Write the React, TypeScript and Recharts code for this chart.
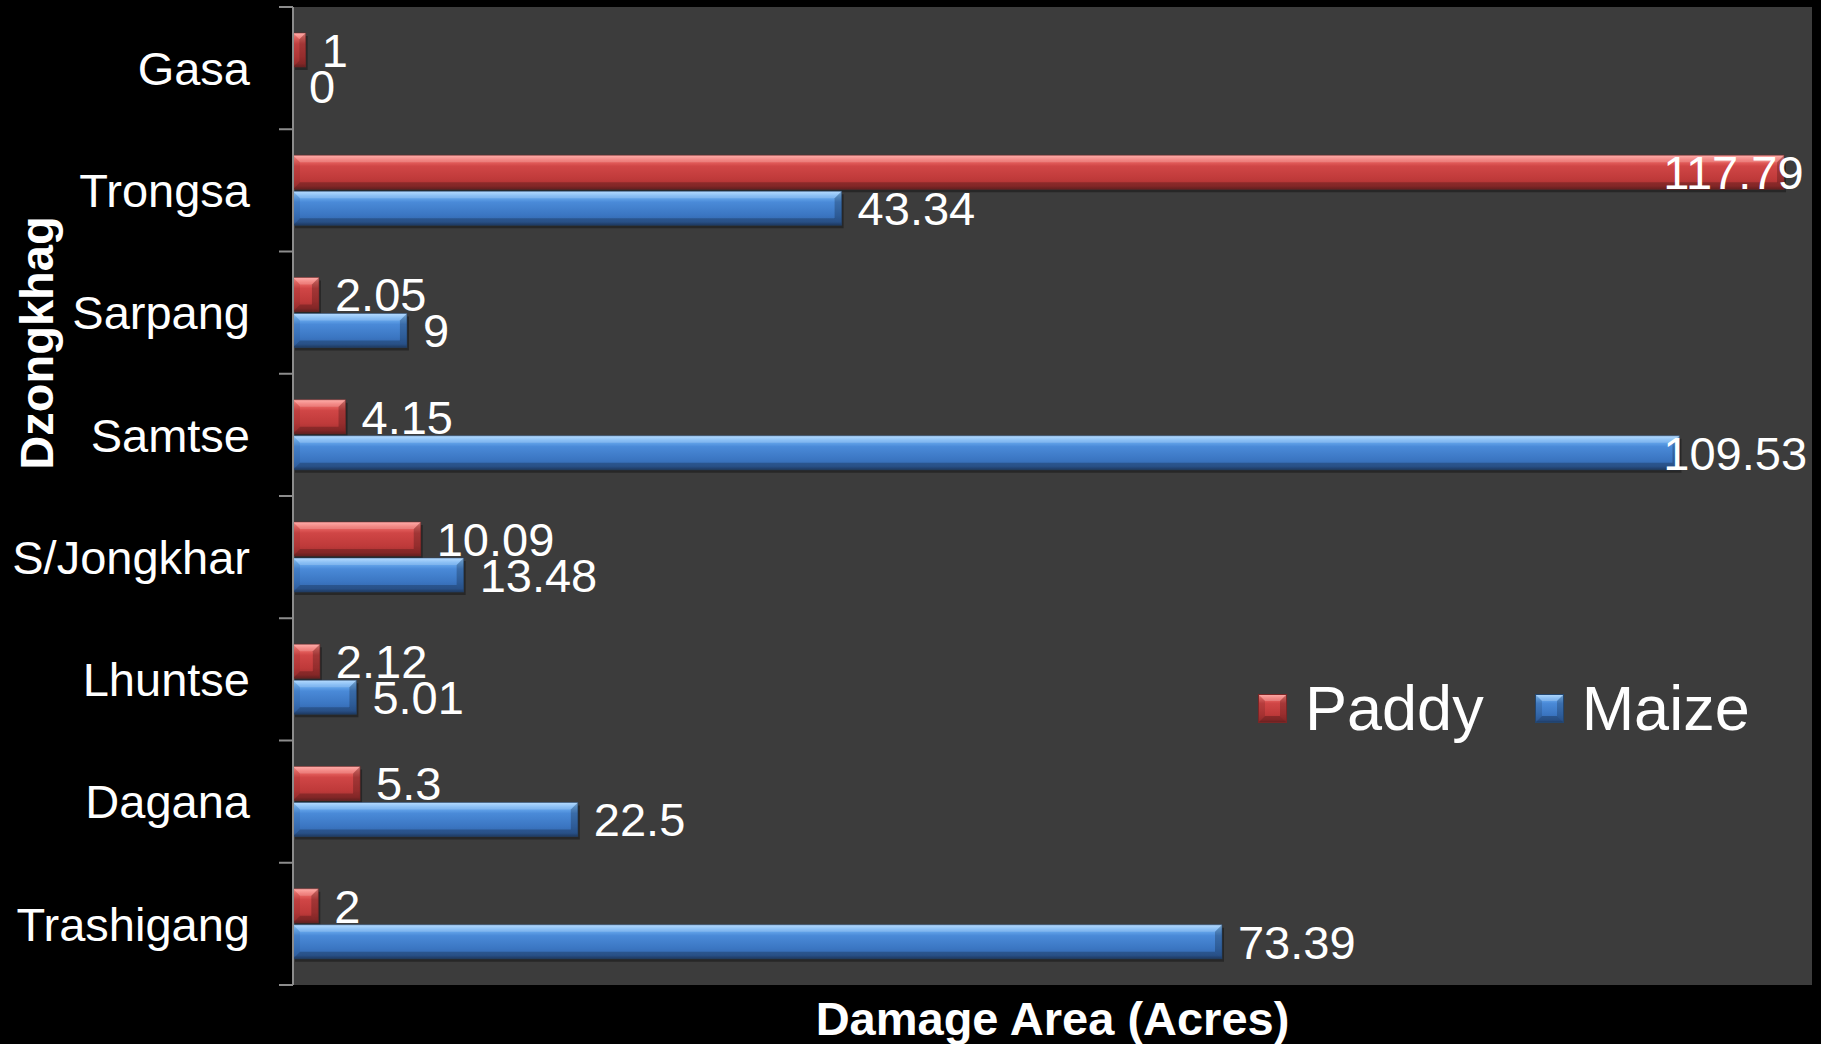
import React from 'react';
import { BarChart, Bar, XAxis, YAxis, CartesianGrid, LabelList } from 'recharts';

const categories = ['Gasa', 'Trongsa', 'Sarpang', 'Samtse', 'S/Jongkhar', 'Lhuntse', 'Dagana', 'Trashigang'];
const paddy = [1, 117.79, 2.05, 4.15, 10.09, 2.12, 5.3, 2];
const maize = [0, 43.34, 9, 109.53, 13.48, 5.01, 22.5, 73.39];
const seriesNames = ['Paddy', 'Maize'];
const xDomain = [0, 120];

const data = categories.map((name, i) => ({ name, Paddy: paddy[i], Maize: maize[i] }));

const W = 1821;
const H = 1044;
const PLOT_LEFT = 293;
const PLOT_TOP = 7;
const PLOT_BOTTOM = 985;
const PLOT_RIGHT = 1812;
const BAND = (PLOT_BOTTOM - PLOT_TOP) / categories.length;
const FONT = '"Liberation Sans", Arial, sans-serif';
const FS = 47;
const LABEL_RIGHT_LIMIT = 1807;

const palette: Record<string, { grad: string; stops: [number, string][]; edge: string }> = {
  Paddy: {
    grad: 'gradPaddy',
    edge: '#7a2626',
    stops: [
      [0, '#ff9c98'],
      [0.14, '#ef6c68'],
      [0.32, '#d04646'],
      [0.7, '#bf3a3a'],
      [0.9, '#a83232'],
      [1, '#7e2a2a'],
    ],
  },
  Maize: {
    grad: 'gradMaize',
    edge: '#23466f',
    stops: [
      [0, '#a6d4ff'],
      [0.14, '#6fb0f2'],
      [0.32, '#4a8ad8'],
      [0.7, '#3b76c2'],
      [0.9, '#3467ad'],
      [1, '#27497a'],
    ],
  },
};

const bevelParts = (x: number, y: number, w: number, h: number) => {
  const d = Math.min(7, w / 2, h / 2);
  return {
    left: `${x},${y} ${x + d},${y + d} ${x + d},${y + h - d} ${x},${y + h}`,
    right: `${x + w},${y} ${x + w - d},${y + d} ${x + w - d},${y + h - d} ${x + w},${y + h}`,
    top: `${x},${y} ${x + w},${y} ${x + w - d},${y + d} ${x + d},${y + d}`,
    bottom: `${x},${y + h} ${x + w},${y + h} ${x + w - d},${y + h - d} ${x + d},${y + h - d}`,
  };
};

const makeShape = (series: string) => (props: any) => {
  const { x, y, width, height } = props;
  if (!width || width <= 0) return <g />;
  const p = palette[series];
  const b = bevelParts(x, y, width, height);
  return (
    <g>
      <rect x={x + 2} y={y + 3} width={width} height={height} fill="#000" opacity={0.35} />
      <rect x={x} y={y} width={width} height={height} fill={`url(#${p.grad})`} />
      <polygon points={b.top} fill="#fff" opacity={0.18} />
      <polygon points={b.bottom} fill="#000" opacity={0.22} />
      <polygon points={b.left} fill="#000" opacity={0.08} />
      <polygon points={b.right} fill="#000" opacity={0.22} />
      <rect x={x} y={y} width={width} height={height} fill="none" stroke={p.edge} strokeOpacity={0.5} strokeWidth={1} />
    </g>
  );
};

const textWidth = (s: string, fs: number) => {
  let w = 0;
  for (const ch of s) w += ch === '.' ? 0.278 : 0.556;
  return w * fs;
};

const renderValueLabel = (props: any) => {
  const { x, y, width, height, value } = props;
  const s = String(value);
  const tw = textWidth(s, FS);
  let lx = Number(x) + Number(width) + 16;
  if (lx + tw > LABEL_RIGHT_LIMIT) lx = LABEL_RIGHT_LIMIT - tw;
  const cy = Number(y) + Number(height) / 2;
  return (
    <text x={lx} y={cy + 0.358 * FS} fill="#fff" fontSize={FS} fontFamily={FONT}>
      {s}
    </text>
  );
};

const CategoryTick = (props: any) => {
  const { x, y, payload, index } = props;
  const top = y - BAND / 2;
  return (
    <g>
      <line x1={PLOT_LEFT - 14} x2={PLOT_LEFT} y1={top} y2={top} stroke="#8c8c8c" strokeWidth={2} />
      {index === categories.length - 1 && (
        <line x1={PLOT_LEFT - 14} x2={PLOT_LEFT} y1={y + BAND / 2} y2={y + BAND / 2} stroke="#8c8c8c" strokeWidth={2} />
      )}
      <text x={x} y={y + 0.358 * FS} textAnchor="end" fill="#fff" fontSize={FS} fontFamily={FONT}>
        {payload.value}
      </text>
    </g>
  );
};

const LegendMarker = ({ series }: { series: string }) => {
  const p = palette[series];
  const s = 29;
  const b = bevelParts(0, 0, s, s);
  return (
    <svg width={s} height={s} style={{ display: 'block' }}>
      <defs>
        <linearGradient id={`lg${series}`} x1="0" y1="0" x2="0" y2="1">
          {p.stops.map(([o, c], i) => (
            <stop key={i} offset={o} stopColor={c} />
          ))}
        </linearGradient>
      </defs>
      <rect x={0} y={0} width={s} height={s} fill={`url(#lg${series})`} />
      <polygon points={b.top} fill="#fff" opacity={0.2} />
      <polygon points={b.bottom} fill="#000" opacity={0.25} />
      <polygon points={b.left} fill="#000" opacity={0.12} />
      <polygon points={b.right} fill="#000" opacity={0.2} />
      <rect x={0.5} y={0.5} width={s - 1} height={s - 1} fill="none" stroke={p.edge} strokeWidth={1} />
    </svg>
  );
};

export default function App() {
  return (
    <div style={{ position: 'absolute', left: 0, top: 0, width: W, height: H, background: '#000', overflow: 'hidden' }}>
      <BarChart
        width={W}
        height={H}
        data={data}
        layout="vertical"
        margin={{ top: PLOT_TOP, right: W - PLOT_RIGHT, bottom: 0, left: 0 }}
        barSize={34}
        barGap={2}
      >
        <defs>
          {seriesNames.map((s) => (
            <linearGradient key={s} id={palette[s].grad} x1="0" y1="0" x2="0" y2="1">
              {palette[s].stops.map(([o, c], i) => (
                <stop key={i} offset={o} stopColor={c} />
              ))}
            </linearGradient>
          ))}
        </defs>
        <CartesianGrid fill="#3c3c3c" stroke="none" horizontal={false} vertical={false} />
        <XAxis
          type="number"
          domain={xDomain}
          tick={false}
          axisLine={false}
          tickLine={false}
          height={H - PLOT_BOTTOM}
          label={(lp: any) => {
            const vb = lp.viewBox || {};
            return (
              <text
                x={PLOT_LEFT + (PLOT_RIGHT - PLOT_LEFT) / 2}
                y={(vb.y ?? PLOT_BOTTOM) + 50}
                textAnchor="middle"
                fill="#fff"
                fontWeight="bold"
                fontSize={FS}
                fontFamily={FONT}
              >
                Damage Area (Acres)
              </text>
            );
          }}
        />
        <YAxis
          type="category"
          dataKey="name"
          width={PLOT_LEFT}
          interval={0}
          tickSize={14}
          tickMargin={29}
          tickLine={false}
          axisLine={{ stroke: '#8c8c8c', strokeWidth: 2 }}
          tick={<CategoryTick />}
          label={() => (
            <text
              x={53}
              y={343}
              transform="rotate(-90, 53, 343)"
              textAnchor="middle"
              fill="#fff"
              fontWeight="bold"
              fontSize={FS}
              fontFamily={FONT}
            >
              Dzongkhag
            </text>
          )}
        />
        {seriesNames.map((s) => (
          <Bar key={s} dataKey={s} isAnimationActive={false} shape={makeShape(s)}>
            <LabelList dataKey={s} content={renderValueLabel} />
          </Bar>
        ))}
      </BarChart>
      <div
        style={{
          position: 'absolute',
          left: 1258,
          top: 677,
          display: 'flex',
          alignItems: 'center',
          fontFamily: FONT,
          fontSize: 63,
          lineHeight: '63px',
          color: '#fff',
          whiteSpace: 'nowrap',
        }}
      >
        {seriesNames.map((s, i) => (
          <div key={s} style={{ display: 'flex', alignItems: 'center', marginRight: i === 0 ? 51 : 0 }}>
            <LegendMarker series={s} />
            <span style={{ marginLeft: 18 }}>{s}</span>
          </div>
        ))}
      </div>
    </div>
  );
}
